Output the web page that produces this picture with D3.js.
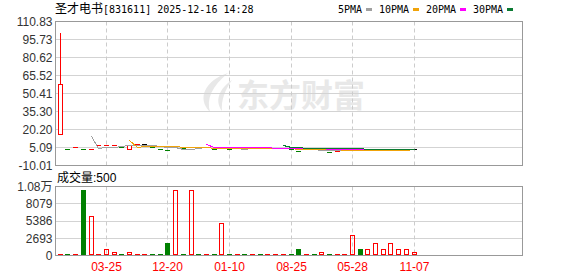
<!DOCTYPE html>
<html>
<head>
<meta charset="utf-8">
<script src="https://cdn.jsdelivr.net/npm/d3@7"></script>
<style>
	body { margin: 0; background: #fff; }
	svg { display: block; }
	text { font-family: "Liberation Sans", "Noto Sans CJK SC", sans-serif; font-size: 12px; }
</style>
</head>
<body>
<svg id="chart" width="578" height="276"></svg>
<script>
const stockName = "圣才电书";
const stockInfo = "[831611] 2025-12-16 14:28";

// daily candles
const opens  = [16.2, 3.1, 5.2, 3.1, 3.5, 6.8, 6.8, 6.8, 5.4, 3.6,
                7.1, 7.8, 5.4, 3.1, 2.5, 4.8, 4.9, 5.4, 5.0, 5.4,
                3.1, 5.4, 3.1, 3.9, 3.1, 5.2, 4.3, 4.3, 4.3, 4.3,
                3.1, 2.4, 3.3, 3.3, 3.2, 1.2, 0.8, 2.9, 2.9, 3.1,
                2.9, 2.9, 2.9, 2.9, 2.9, 2.9, 3.0];
const closes = [58.1, 3.0, 5.3, 3.0, 3.6, 6.9, 6.9, 6.9, 5.3, 6.6,
                7.2, 7.8, 5.3, 3.0, 2.4, 4.9, 3.3, 5.5, 4.9, 5.5,
                3.0, 5.5, 3.0, 4.0, 3.0, 5.3, 4.2, 4.4, 4.4, 4.4,
                3.0, 1.9, 3.4, 3.2, 3.3, 1.1, 1.9, 3.0, 3.0, 3.0,
                3.0, 3.0, 3.0, 3.0, 3.0, 3.0, 3.0];
const highs  = [100.9, 3.1, 5.3, 3.1, 3.6, 6.9, 6.9, 6.9, 5.4, 6.6,
                7.2, 7.8, 5.4, 3.1, 2.5, 4.9, 4.9, 5.5, 5.0, 5.5,
                3.1, 5.5, 3.1, 4.0, 3.1, 5.3, 4.3, 4.4, 4.4, 4.4,
                3.1, 2.4, 3.4, 3.3, 3.3, 1.2, 1.9, 3.0, 3.0, 3.1,
                3.0, 3.0, 3.0, 3.0, 3.0, 3.0, 3.0];
const lows   = [16.2, 3.0, 5.2, 3.0, 3.5, 6.8, 6.8, 6.8, 5.3, 3.6,
                7.1, 7.8, 5.3, 3.0, 2.4, 4.8, 3.3, 5.4, 4.9, 5.4,
                3.0, 5.4, 3.0, 3.9, 3.0, 5.2, 4.2, 4.3, 4.3, 4.3,
                3.0, 1.9, 3.3, 3.2, 3.2, 1.1, 0.8, 2.9, 2.9, 3.0,
                2.9, 2.9, 2.9, 2.9, 2.9, 2.9, 3.0];
const volumes = [80, 80, 80, 10100, 6130, 80, 950, 470, 80, 470,
                 80, 80, 80, 80, 1940, 10100, 80, 10100, 80, 80,
                 80, 5030, 80, 80, 80, 80, 80, 80, 80, 80,
                 80, 950, 80, 80, 470, 80, 80, 80, 3150, 950,
                 950, 1840, 950, 1840, 950, 950, 470];

const dateTickIdx = [6, 14, 22, 30, 38, 46];
const dateTickLabels = ["03-25", "12-20", "01-10", "08-25", "05-28", "11-07"];
const priceTicks = [110.83, 95.73, 80.62, 65.52, 50.41, 35.30, 20.20, 5.09, -10.01];
const volumeTicks = [0, 2693, 5386, 8079, 10772];
const volumeTickLabels = ["0", "2693", "5386", "8079", "1.08万"];

const maPeriods = [5, 10, 20, 30];
const maNames = ["5PMA", "10PMA", "20PMA", "30PMA"];
const maColors = ["#a0a0a0", "#f0a30a", "#ff00ff", "#0a7a32"];

const RED = "#ff0000", GREEN = "#008000", FLAT = "#000";

const svg = d3.select("#chart");
const L = 55.5, R = 522.5, T1 = 21.5, B1 = 165.5, T2 = 186.5, B2 = 255.5;
const crisp = v => Math.round(v - 0.5) + 0.5;

const x = d3.scaleBand()
  .domain(d3.range(closes.length))
  .range([56.45, 417.9])
  .paddingInner(0.35)
  .paddingOuter(0.175);
const y = d3.scaleLinear().domain([-10.01, 110.83]).range([B1, T1]);
const vy = d3.scaleLinear().domain([0, 10772]).range([B2, T2]);

const left = i => Math.round(x(i)) + 0.5;
const mid = i => left(i) + 2;

// watermark
const wm = svg.append("g").attr("fill", "#e8e8e8");
wm.append("path").attr("d", "M228,73 C206,80 196,98 210,112 C206,99 212,86 228,73 Z");
wm.append("path").attr("d", "M232,80 C220,88 214,100 222,111 C221,100 225,90 232,80 Z");
wm.append("text")
  .attr("x", 237).attr("y", 107)
  .style("font-family", "'Noto Sans CJK SC'")
  .style("font-size", "32px")
  .style("font-weight", "bold")
  .text("东方财富");

// grids and axes
function panelGrid(scale, ticks, labels, top, bottom) {
	const g = svg.append("g");
	g.selectAll("line.h")
	  .data(ticks.slice(1, -1))
	  .join("line")
	  .attr("x1", L).attr("x2", R)
	  .attr("y1", d => crisp(scale(d))).attr("y2", d => crisp(scale(d)))
	  .attr("stroke", "#d3d3d3");
	g.selectAll("line.v")
	  .data(dateTickIdx)
	  .join("line")
	  .attr("x1", d => mid(d)).attr("x2", d => mid(d))
	  .attr("y1", top).attr("y2", bottom)
	  .attr("stroke", "#cccccc")
	  .attr("stroke-dasharray", "4,3");
	g.append("rect")
	  .attr("x", L).attr("y", top)
	  .attr("width", R - L).attr("height", bottom - top)
	  .attr("fill", "none").attr("stroke", "#999");

	const axis = d3.axisLeft(scale)
	  .tickValues(ticks)
	  .tickSize(0)
	  .tickPadding(3)
	  .tickFormat((d, i) => labels[i]);
	const ag = svg.append("g").attr("transform", `translate(${L},0)`).call(axis);
	ag.select(".domain").remove();
	ag.selectAll("text")
	  .attr("fill", "#333")
	  .style("font-family", "'Liberation Sans', 'Noto Sans CJK SC', sans-serif")
	  .style("font-size", "12px");
}

panelGrid(y, priceTicks, priceTicks.map(d => d.toFixed(2)), T1, B1);
panelGrid(vy, volumeTicks, volumeTickLabels, T2, B2);

// candles
const candles = svg.append("g").attr("shape-rendering", "crispEdges");
closes.forEach(function(c, i) {
	const o = opens[i];
	const col = c > o ? RED : (c < o ? GREEN : FLAT);
	const yTop = y(Math.max(o, c)), yBot = y(Math.min(o, c));
	if (highs[i] > Math.max(o, c)) {
		candles.append("line")
		  .attr("x1", mid(i)).attr("x2", mid(i))
		  .attr("y1", y(highs[i])).attr("y2", yTop)
		  .attr("stroke", col);
	}
	if (lows[i] < Math.min(o, c)) {
		candles.append("line")
		  .attr("x1", mid(i)).attr("x2", mid(i))
		  .attr("y1", yBot).attr("y2", y(lows[i]))
		  .attr("stroke", col);
	}
	if (yBot - yTop < 1.5) {
		const yy = crisp(y(c));
		candles.append("line")
		  .attr("x1", left(i) - 0.5).attr("x2", left(i) + 4.5)
		  .attr("y1", yy).attr("y2", yy)
		  .attr("stroke", col);
	} else if (col === RED) {
		candles.append("rect")
		  .attr("x", left(i)).attr("y", crisp(yTop))
		  .attr("width", 4).attr("height", Math.round(yBot - yTop))
		  .attr("fill", "#fff").attr("stroke", RED);
	} else {
		candles.append("rect")
		  .attr("x", left(i) - 0.5).attr("y", Math.round(yTop))
		  .attr("width", 5).attr("height", Math.max(1, Math.round(yBot - yTop)))
		  .attr("fill", col);
	}
});

// moving averages
const line = d3.line()
  .defined(d => d != null)
  .x(d => mid(d.i))
  .y(d => crisp(y(d.v)));

maPeriods.forEach(function(n, k) {
	const pts = closes.map(function(c, i) {
		if (i < n - 1) return null;
		return { i: i, v: d3.mean(closes.slice(i - n + 1, i + 1)) };
	});
	svg.append("path")
	  .datum(pts)
	  .attr("d", line)
	  .attr("fill", "none")
	  .attr("stroke", maColors[k])
	  .attr("stroke-width", 1)
	  .attr("shape-rendering", "crispEdges");
});

// volume bars
const vol = svg.append("g").attr("shape-rendering", "crispEdges");
volumes.forEach(function(v, i) {
	const up = closes[i] >= opens[i];
	const h = Math.max(1, Math.round(B2 - vy(v)));
	if (up) {
		if (h <= 1) {
			vol.append("line")
			  .attr("x1", left(i) - 0.5).attr("x2", left(i) + 4.5)
			  .attr("y1", B2 - 1).attr("y2", B2 - 1)
			  .attr("stroke", RED);
		} else {
			vol.append("rect")
			  .attr("x", left(i)).attr("y", B2 - h)
			  .attr("width", 4).attr("height", h - 1)
			  .attr("fill", "none").attr("stroke", RED);
		}
	} else {
		vol.append("rect")
		  .attr("x", left(i) - 0.5).attr("y", B2 - 0.5 - h)
		  .attr("width", 5).attr("height", h)
		  .attr("fill", GREEN);
	}
});

// date labels
svg.append("g")
  .selectAll("text")
  .data(dateTickIdx)
  .join("text")
  .attr("x", d => mid(d))
  .attr("y", 271)
  .attr("text-anchor", "middle")
  .attr("fill", RED)
  .text((d, i) => dateTickLabels[i]);

// title
const title = svg.append("text").attr("x", 55).attr("y", 13).attr("fill", "#000");
title.append("tspan")
  .style("font-family", "'Noto Sans CJK SC'")
  .style("font-size", "12px")
  .text(stockName);
title.append("tspan")
  .style("font-family", "'DejaVu Sans Mono'")
  .style("font-size", "10px")
  .text(stockInfo);

// legend
let lx = 338;
maNames.forEach(function(name, k) {
	svg.append("text")
	  .attr("x", lx).attr("y", 13)
	  .style("font-family", "'DejaVu Sans Mono'")
	  .style("font-size", "10px")
	  .attr("fill", "#000")
	  .text(name);
	lx += name.length * 6 + 4;
	svg.append("rect")
	  .attr("x", lx).attr("y", 8)
	  .attr("width", 6).attr("height", 3)
	  .attr("fill", maColors[k]);
	lx += 6 + 7;
});

// volume label
svg.append("text")
  .attr("x", 57).attr("y", 181.5)
  .attr("fill", "#000")
  .text("成交量:500");
</script>
</body>
</html>
